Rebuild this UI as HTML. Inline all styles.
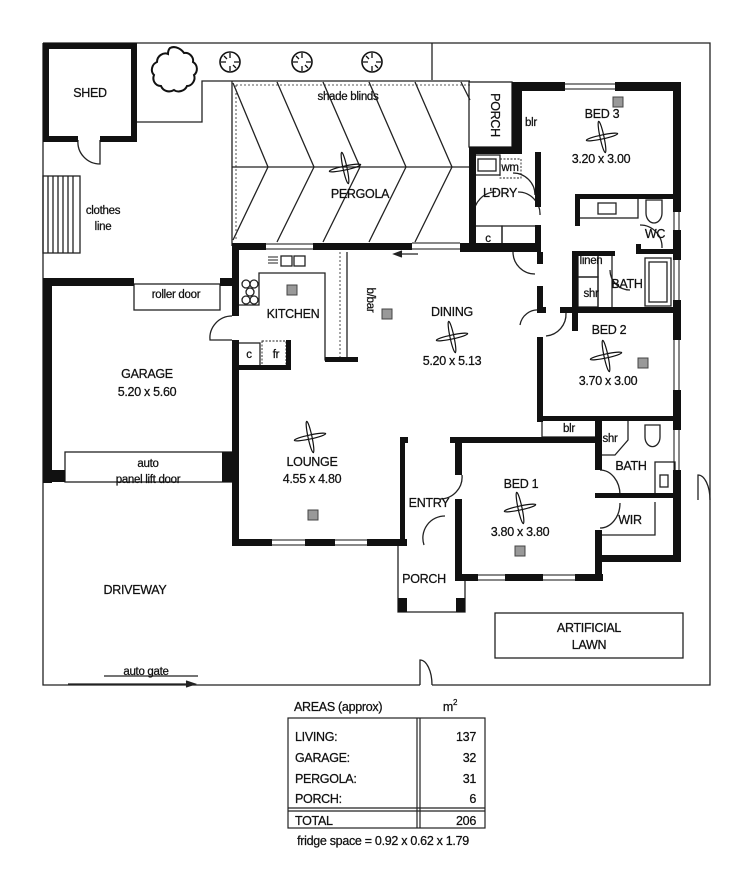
<!DOCTYPE html>
<html><head><style>
html,body{margin:0;padding:0;background:#fff;}
svg{display:block;}
text{font-family:"Liberation Sans",sans-serif;font-size:12.5px;fill:#111;letter-spacing:-0.3px;stroke:#111;stroke-width:0.25px;}
.t{text-anchor:middle;}
.s{font-size:11.5px;}
</style></head><body>
<svg width="750" height="885" viewBox="0 0 750 885" xmlns="http://www.w3.org/2000/svg">
<defs>
<g id="fan"><ellipse cx="0" cy="0" rx="16" ry="2" fill="none" stroke="#111" stroke-width="1.2" transform="rotate(-12)"/><ellipse cx="0" cy="0" rx="16" ry="2" fill="none" stroke="#111" stroke-width="1.2" transform="rotate(78)"/></g>
<g id="sq"><rect x="-5" y="-5" width="10" height="10" fill="#999" stroke="#444" stroke-width="1"/></g>
<g id="tree"><circle r="10" fill="#fff" stroke="#111" stroke-width="1.6"/><path d="M0-9V-4M0 9V4M-9 0H-4M9 0H4M-6-6l3 3M6 6l-3-3" stroke="#111" stroke-width="1.3"/></g>
</defs>
<g fill="none" stroke="#222" stroke-width="1.3">
<path d="M43 43H710V685H432M420 685H43V43"/>
<path d="M432 43V80"/>
<path d="M136 122H202V81H470"/>
<path d="M232 81V246"/>
<path d="M236 85V240M236 85H470" stroke-dasharray="2 2" stroke-width="0.8"/>
<path d="M232 167H470"/>
<path d="M233 83L268 167L233 240M277 82L314 167L277 242M323 82L360 167L323 242M369 82L406 167L369 242M415 82L452 167L415 242M461 82L470 100"/>
<rect x="43" y="176" width="37" height="77"/>
<path d="M48 176V253M53 176V253M58 176V253M63 176V253M68 176V253M73 176V253"/>
<path d="M78 140A22 22 0 0 0 100 164V140"/>
<rect x="134" y="284" width="86" height="26"/>
<rect x="65" y="452" width="167" height="30"/>
<path d="M232 316A22 22 0 0 0 210 340H232"/>
<path d="M420 685V660A12 25 0 0 1 432 685"/>
<path d="M710 500A12 25 0 0 0 698 475V500"/>
<path d="M104 676H198" />
<path d="M68 684H192"/>
<path d="M186 681L195 684L186 687" fill="#222"/>
<rect x="495" y="613" width="188" height="45"/>
<path d="M398 545V612H465V580"/>
<rect x="469" y="82" width="43" height="65"/>
<rect x="474" y="155" width="26" height="20"/><rect x="478" y="159" width="18" height="12"/>
<rect x="500" y="159" width="21" height="19" stroke-dasharray="2 1.5" stroke-width="0.9"/>
<rect x="474" y="226" width="28" height="21"/><rect x="502" y="226" width="38" height="21"/>
<path d="M474 215A22 22 0 0 1 496 192M540 215A22 22 0 0 0 518 192"/>
<path d="M513 173A22 22 0 0 1 535 195"/>
<path d="M513 252A22 22 0 0 0 535 274M540 310A18 18 0 0 0 520 325"/>
<rect x="578" y="198" width="60" height="20"/><rect x="598" y="203" width="18" height="11"/>
<path d="M646 200V213A8 10 0 0 0 662 213V200Z"/>
<path d="M640 225A22 22 0 0 1 662 248"/>
<rect x="578" y="252" width="20" height="25"/><rect x="578" y="277" width="20" height="30"/>
<path d="M598 252V307"/>
<path d="M612 252V307"/>
<rect x="645" y="258" width="26" height="48"/><rect x="649" y="262" width="18" height="40"/>
<path d="M610 270A20 20 0 0 0 630 290"/>
<path d="M566 313A22 22 0 0 1 546 336"/>
<rect x="542" y="420" width="54" height="17"/>
<path d="M600 420V455H615L628 440V420"/>
<path d="M645 425V437A7 9 0 0 0 660 437V425Z"/>
<rect x="655" y="462" width="20" height="34"/><rect x="660" y="475" width="8" height="12"/>
<path d="M600 470A20 25 0 0 1 620 495M600 528A20 25 0 0 0 620 503"/>
<path d="M602 535H655V502"/>
<path d="M462 475A22 22 0 0 1 440 499M445 516A22 22 0 0 0 424 545"/>
<path d="M238 305H259V273H325V360H347V252"/>
<rect x="281" y="256" width="11" height="10"/><rect x="294" y="256" width="11" height="10"/>
<path d="M268 257H278M268 260H278M268 263H278" stroke-width="1"/>
<circle cx="246" cy="284" r="4"/><circle cx="254" cy="284" r="4"/><circle cx="250" cy="292" r="4"/><circle cx="246" cy="300" r="4"/><circle cx="254" cy="300" r="4"/>
<path d="M340 252V358" stroke-dasharray="2 2" stroke-width="0.8"/>
<rect x="238" y="343" width="22" height="25"/>
<rect x="262" y="341" width="24" height="26" stroke-dasharray="2 1.5" stroke-width="0.9"/>
<path d="M395 254H418"/><path d="M402 251L394 254L402 257" fill="#222"/>
</g>
<g fill="#111">
<rect x="43" y="43" width="93" height="6"/><rect x="43" y="43" width="6" height="98"/><rect x="131" y="43" width="6" height="98"/>
<rect x="43" y="136" width="35" height="6"/><rect x="100" y="136" width="37" height="6"/>
<rect x="43" y="278" width="91" height="8"/><rect x="220" y="278" width="18" height="8"/>
<rect x="43" y="278" width="9" height="205"/><rect x="222" y="452" width="12" height="30"/>
<rect x="43" y="470" width="22" height="12"/>
<rect x="232" y="243" width="7" height="73"/><rect x="232" y="340" width="7" height="206"/>
<rect x="232" y="243" width="34" height="7"/><rect x="313" y="243" width="99" height="7"/><rect x="460" y="243" width="81" height="9"/>
<rect x="238" y="365" width="50" height="5"/><rect x="286" y="340" width="5" height="30"/>
<rect x="325" y="357" width="33" height="5"/>
<rect x="232" y="539" width="40" height="7"/><rect x="305" y="539" width="30" height="7"/><rect x="367" y="539" width="40" height="7"/>
<rect x="400" y="437" width="5" height="108"/><rect x="401" y="437" width="7" height="6"/>
<rect x="469" y="147" width="7" height="105"/><rect x="469" y="147" width="53" height="7"/>
<rect x="535" y="152" width="6" height="55"/>
<rect x="535" y="225" width="6" height="27"/>
<rect x="512" y="82" width="53" height="9"/><rect x="615" y="82" width="66" height="9"/>
<rect x="512" y="82" width="10" height="72"/>
<rect x="575" y="194" width="106" height="5"/><rect x="575" y="194" width="5" height="32"/>
<rect x="673" y="82" width="8" height="130"/><rect x="673" y="230" width="8" height="30"/><rect x="673" y="300" width="8" height="40"/><rect x="673" y="390" width="8" height="40"/><rect x="673" y="470" width="8" height="92"/>
<rect x="636" y="249" width="37" height="5"/><rect x="636" y="244" width="5" height="10"/>
<rect x="572" y="251" width="43" height="5"/><rect x="572" y="251" width="6" height="80"/>
<rect x="537" y="252" width="6" height="12"/><rect x="537" y="286" width="6" height="25"/><rect x="537" y="337" width="6" height="85"/>
<rect x="560" y="307" width="121" height="6"/><rect x="537" y="307" width="9" height="6"/>
<rect x="537" y="416" width="144" height="5"/>
<rect x="450" y="437" width="150" height="6"/><rect x="455" y="437" width="7" height="38"/><rect x="455" y="499" width="7" height="82"/>
<rect x="455" y="574" width="23" height="7"/><rect x="505" y="574" width="38" height="7"/><rect x="575" y="574" width="28" height="7"/>
<rect x="595" y="420" width="7" height="50"/><rect x="595" y="530" width="7" height="51"/>
<rect x="595" y="493" width="78" height="5"/>
<rect x="595" y="555" width="86" height="7"/>
<rect x="398" y="598" width="9" height="14"/><rect x="456" y="598" width="9" height="14"/>
</g>
<g fill="none" stroke="#111" stroke-width="1">
<path d="M266 244H313M266 249H313M565 84H615M565 89H615M272 540H305M272 545H305M335 540H367M335 545H367M478 575H505M478 580H505M543 575H575M543 580H575"/>
<path d="M674 212V230M679 212V230M674 260V300M679 260V300M674 340V390M679 340V390M674 430V470M679 430V470"/>
<path d="M412 243H460M412 249H460"/>
</g>
<path d="M170 48c6-3 12 2 14 5c5-1 10 4 9 9c5 3 5 10 1 13c2 5-2 11-7 11c-2 5-9 7-13 4c-5 3-11 1-13-4c-6 0-9-6-7-11c-4-4-2-11 3-13c0-6 6-10 11-8c0-3 1-5 2-6z" fill="#fff" stroke="#111" stroke-width="2"/>
<use href="#tree" x="230" y="62"/><use href="#tree" x="302" y="62"/><use href="#tree" x="372" y="62"/>
<use href="#fan" x="345" y="168"/><use href="#fan" x="602" y="137"/><use href="#fan" x="452" y="337"/><use href="#fan" x="606" y="356"/><use href="#fan" x="310" y="437"/><use href="#fan" x="520" y="508"/>
<use href="#sq" x="618" y="102"/><use href="#sq" x="292" y="290"/><use href="#sq" x="387" y="314"/><use href="#sq" x="643" y="363"/><use href="#sq" x="313" y="515"/><use href="#sq" x="520" y="551"/>
<text class="t" x="90" y="97">SHED</text>
<text class="t s" x="348" y="100">shade blinds</text>
<text class="t" x="360" y="198">PERGOLA</text>
<text class="t" x="491" y="115" transform="rotate(90 491 115)">PORCH</text>
<text class="t s" x="531" y="126">blr</text>
<text class="t" x="602" y="118">BED 3</text>
<text class="t" x="601" y="163">3.20 x 3.00</text>
<text class="t s" x="510" y="171">wm</text>
<text class="t" x="500" y="197">L'DRY</text>
<text class="t s" x="488" y="242">c</text>
<text class="t" x="655" y="238">WC</text>
<text class="t s" x="591" y="264">linen</text>
<text class="t s" x="591" y="297">shr</text>
<text class="t" x="627" y="288">BATH</text>
<text class="t s" x="103" y="214">clothes</text>
<text class="t s" x="103" y="230">line</text>
<text class="t s" x="176" y="298">roller door</text>
<text class="t" x="293" y="318">KITCHEN</text>
<text class="t s" x="367" y="300" transform="rotate(90 367 300)">b/bar</text>
<text class="t" x="452" y="316">DINING</text>
<text class="t" x="452" y="365">5.20 x 5.13</text>
<text class="t s" x="249" y="358">c</text>
<text class="t s" x="276" y="358">fr</text>
<text class="t" x="147" y="378">GARAGE</text>
<text class="t" x="147" y="396">5.20 x 5.60</text>
<text class="t" x="609" y="334">BED 2</text>
<text class="t" x="608" y="385">3.70 x 3.00</text>
<text class="t s" x="569" y="432">blr</text>
<text class="t s" x="610" y="442">shr</text>
<text class="t" x="631" y="470">BATH</text>
<text class="t s" x="148" y="467">auto</text>
<text class="t s" x="148" y="483">panel lift door</text>
<text class="t" x="312" y="466">LOUNGE</text>
<text class="t" x="312" y="483">4.55 x 4.80</text>
<text class="t" x="521" y="488">BED 1</text>
<text class="t" x="429" y="507">ENTRY</text>
<text class="t" x="630" y="524">WIR</text>
<text class="t" x="520" y="536">3.80 x 3.80</text>
<text class="t" x="424" y="583">PORCH</text>
<text class="t" x="135" y="594">DRIVEWAY</text>
<text class="t" x="589" y="632">ARTIFICIAL</text>
<text class="t" x="589" y="649">LAWN</text>
<text class="t s" x="146" y="675">auto gate</text>
<text x="294" y="711">AREAS (approx)</text>
<text class="t" x="450" y="711">m<tspan dy="-6" font-size="8">2</tspan></text>
<g fill="none" stroke="#222" stroke-width="1.2">
<rect x="288" y="718" width="197" height="110"/>
<path d="M417 718V828M420 718V828M288 808H485M288 811H485"/>
</g>
<text x="295" y="741">LIVING:</text><text x="476" y="741" text-anchor="end">137</text>
<text x="295" y="762">GARAGE:</text><text x="476" y="762" text-anchor="end">32</text>
<text x="295" y="783">PERGOLA:</text><text x="476" y="783" text-anchor="end">31</text>
<text x="295" y="803">PORCH:</text><text x="476" y="803" text-anchor="end">6</text>
<text x="295" y="825">TOTAL</text><text x="476" y="825" text-anchor="end">206</text>
<text class="t" x="383" y="845">fridge space = 0.92 x 0.62 x 1.79</text>
</svg>
</body></html>
